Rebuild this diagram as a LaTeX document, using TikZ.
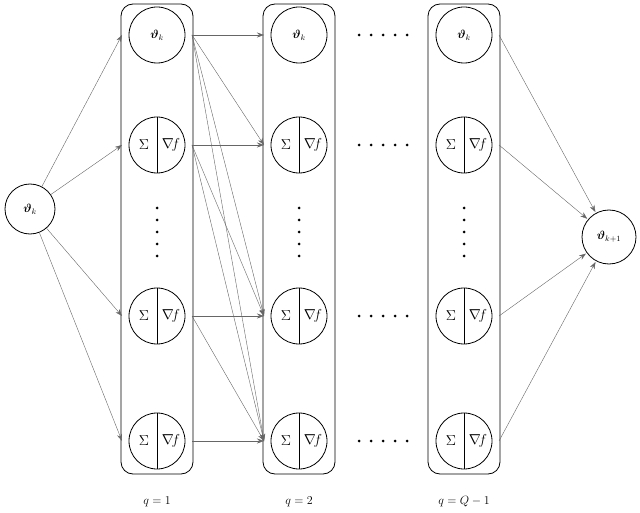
\documentclass[tikz,border=0pt]{standalone}
\usepackage{amsmath}
\usetikzlibrary{arrows.meta}
\begin{document}
\begin{tikzpicture}[x=1pt,y=-1pt,
  nd/.style={circle,draw,thick,minimum size=56pt,inner sep=0pt,font=\large},
  col/.style={draw,thick,rounded corners=12pt},
  arr/.style={draw=black!60,-{Stealth[length=7pt,width=5pt]}},
  dot/.style={circle,fill,inner sep=0pt,minimum size=3pt},
  half/.style={font=\Large,inner sep=0pt},
  lab/.style={font=\large}]
\useasboundingbox (0,0) rectangle (640,513);
\foreach \c/\x in {1/157,2/299,3/464}{
  \node[col,minimum width=72pt,minimum height=470pt,inner sep=0pt] (box\c) at (\x,239) {};
  \node[nd] (n\c-1) at (\x,35) {$\boldsymbol{\vartheta}_k$};
  \foreach \r/\y in {2/145,3/316,4/441}{
    \node[nd] (n\c-\r) at (\x,\y) {};
    \draw[thick] (n\c-\r.north) -- (n\c-\r.south);
    \node[half] (s\c-\r) at ([xshift=-13pt]n\c-\r.center) {$\Sigma$};
    \node[half] (g\c-\r) at ([xshift=14pt]n\c-\r.center) {$\nabla\!f$};
  }
  \foreach \k in {0,...,4}{\node[dot] (vd\c-\k) at (\x,208+12*\k) {};}
  \foreach \r/\y in {1/35,2/145,3/316,4/441}{
    \coordinate (L\c-\r) at (\x-35,\y);
    \coordinate (R\c-\r) at (\x+35,\y);
  }
}
\foreach \r/\y in {1/35,2/145,3/316,4/441}{
  \foreach \k in {0,...,4}{\node[dot] (hd\r-\k) at (359+12*\k,\y) {};}
}
\node[circle,draw,thick,minimum size=50pt,inner sep=0pt,font=\large] (ln) at (30,209) {$\boldsymbol{\vartheta}_k$};
\node[circle,draw,thick,minimum size=54pt,inner sep=0pt,font=\large] (rn) at (609,237) {$\boldsymbol{\vartheta}_{k+1}$};
\foreach \r in {1,...,4}{
  \draw[arr] (ln) -- (L1-\r);
  \draw[arr,shorten >=1pt] (R3-\r) -- (rn);
}
\foreach \i in {1,...,4}{
  \foreach \j in {\i,...,4}{
    \draw[arr] (R1-\i) -- (L2-\j);
  }
}
\node[lab] (q1) at (157,502) {$q=1$};
\node[lab] (q2) at (299,502) {$q=2$};
\node[lab] (q3) at (464,502) {$q=Q-1$};
\end{tikzpicture}
\end{document}
